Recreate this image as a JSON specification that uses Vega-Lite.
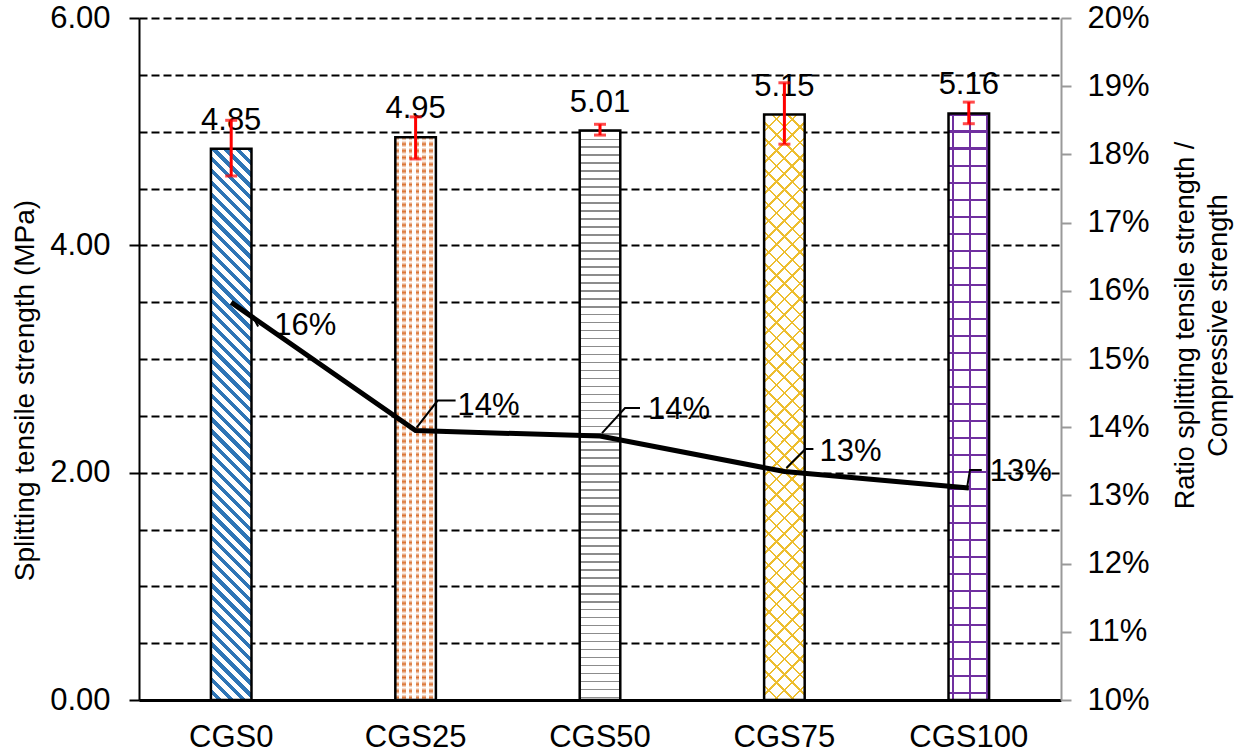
{
"$schema":"https://vega.github.io/schema/vega-lite/v6.json",
"width":922,"height":682,
"autosize":{"type":"none"},
"padding":{"left":139,"top":18,"right":179,"bottom":52},
"background":"white",
"config":{"font":"Liberation Sans","view":{"stroke":null},"axis":{"labelColor":"#000","titleColor":"#000","titleFontWeight":"normal"}},
"data":{"values":[
{"cat":"CGS0","mpa":4.85,"lo":4.61,"hi":5.10,"ratio":0.1583},
{"cat":"CGS25","mpa":4.95,"lo":4.76,"hi":5.13,"ratio":0.1395},
{"cat":"CGS50","mpa":5.01,"lo":4.97,"hi":5.065,"ratio":0.1387},
{"cat":"CGS75","mpa":5.15,"lo":4.89,"hi":5.43,"ratio":0.1335},
{"cat":"CGS100","mpa":5.16,"lo":5.07,"hi":5.26,"ratio":0.1311}
]},
"encoding":{"x":{"field":"cat","type":"nominal","sort":["CGS0","CGS25","CGS50","CGS75","CGS100"],"scale":{"paddingInner":0.78,"paddingOuter":0.39},"axis":{"title":null,"ticks":false,"grid":false,"domainColor":"#000","domainWidth":3,"labelFontSize":31,"labelPadding":22,"labelAngle":0}}},
"layer":[
{"encoding":{"y":{"field":"mpa","type":"quantitative","scale":{"domain":[0,6],"nice":false},"axis":{"values":[0,0.5,1,1.5,2,2.5,3,3.5,4,4.5,5,5.5,6],"labelExpr":"datum.value % 2 === 0 ? format(datum.value, '.2f') : ''","grid":true,"gridDash":[8,4],"gridColor":"#000","gridWidth":2,"tickColor":{"condition":{"test":"datum.value % 2 === 0","value":"#000"},"value":"transparent"},"tickSize":10,"tickWidth":2,"domainColor":"#000","domainWidth":2,"labelFontSize":31,"labelPadding":19,"title":"Splitting tensile strength (MPa)","titleFontSize":28,"titleX":-114,"titleY":372,"titleAngle":270,"titleAlign":"center","titleBaseline":"middle"}}},
"layer":[
{"transform":[{"filter":"datum.cat === 'CGS0'"}],"mark":{"type":"bar","fill":{"gradient":"linear","x1":1,"y1":0,"x2":0.9214,"y2":1.0678,"stops":[
{"offset":0,"color":"#2E75B6"},{"offset":0.009,"color":"#2E75B6"},{"offset":0.009,"color":"#fff"},{"offset":0.02,"color":"#fff"},
{"offset":0.02,"color":"#2E75B6"},{"offset":0.029,"color":"#2E75B6"},{"offset":0.029,"color":"#fff"},{"offset":0.04,"color":"#fff"},
{"offset":0.04,"color":"#2E75B6"},{"offset":0.049,"color":"#2E75B6"},{"offset":0.049,"color":"#fff"},{"offset":0.06,"color":"#fff"},
{"offset":0.06,"color":"#2E75B6"},{"offset":0.069,"color":"#2E75B6"},{"offset":0.069,"color":"#fff"},{"offset":0.08,"color":"#fff"},
{"offset":0.08,"color":"#2E75B6"},{"offset":0.089,"color":"#2E75B6"},{"offset":0.089,"color":"#fff"},{"offset":0.1,"color":"#fff"},
{"offset":0.1,"color":"#2E75B6"},{"offset":0.109,"color":"#2E75B6"},{"offset":0.109,"color":"#fff"},{"offset":0.12,"color":"#fff"},
{"offset":0.12,"color":"#2E75B6"},{"offset":0.129,"color":"#2E75B6"},{"offset":0.129,"color":"#fff"},{"offset":0.14,"color":"#fff"},
{"offset":0.14,"color":"#2E75B6"},{"offset":0.149,"color":"#2E75B6"},{"offset":0.149,"color":"#fff"},{"offset":0.16,"color":"#fff"},
{"offset":0.16,"color":"#2E75B6"},{"offset":0.169,"color":"#2E75B6"},{"offset":0.169,"color":"#fff"},{"offset":0.18,"color":"#fff"},
{"offset":0.18,"color":"#2E75B6"},{"offset":0.189,"color":"#2E75B6"},{"offset":0.189,"color":"#fff"},{"offset":0.2,"color":"#fff"},
{"offset":0.2,"color":"#2E75B6"},{"offset":0.209,"color":"#2E75B6"},{"offset":0.209,"color":"#fff"},{"offset":0.22,"color":"#fff"},
{"offset":0.22,"color":"#2E75B6"},{"offset":0.229,"color":"#2E75B6"},{"offset":0.229,"color":"#fff"},{"offset":0.24,"color":"#fff"},
{"offset":0.24,"color":"#2E75B6"},{"offset":0.249,"color":"#2E75B6"},{"offset":0.249,"color":"#fff"},{"offset":0.26,"color":"#fff"},
{"offset":0.26,"color":"#2E75B6"},{"offset":0.269,"color":"#2E75B6"},{"offset":0.269,"color":"#fff"},{"offset":0.28,"color":"#fff"},
{"offset":0.28,"color":"#2E75B6"},{"offset":0.289,"color":"#2E75B6"},{"offset":0.289,"color":"#fff"},{"offset":0.3,"color":"#fff"},
{"offset":0.3,"color":"#2E75B6"},{"offset":0.309,"color":"#2E75B6"},{"offset":0.309,"color":"#fff"},{"offset":0.32,"color":"#fff"},
{"offset":0.32,"color":"#2E75B6"},{"offset":0.329,"color":"#2E75B6"},{"offset":0.329,"color":"#fff"},{"offset":0.34,"color":"#fff"},
{"offset":0.34,"color":"#2E75B6"},{"offset":0.349,"color":"#2E75B6"},{"offset":0.349,"color":"#fff"},{"offset":0.36,"color":"#fff"},
{"offset":0.36,"color":"#2E75B6"},{"offset":0.369,"color":"#2E75B6"},{"offset":0.369,"color":"#fff"},{"offset":0.38,"color":"#fff"},
{"offset":0.38,"color":"#2E75B6"},{"offset":0.389,"color":"#2E75B6"},{"offset":0.389,"color":"#fff"},{"offset":0.4,"color":"#fff"},
{"offset":0.4,"color":"#2E75B6"},{"offset":0.409,"color":"#2E75B6"},{"offset":0.409,"color":"#fff"},{"offset":0.42,"color":"#fff"},
{"offset":0.42,"color":"#2E75B6"},{"offset":0.429,"color":"#2E75B6"},{"offset":0.429,"color":"#fff"},{"offset":0.44,"color":"#fff"},
{"offset":0.44,"color":"#2E75B6"},{"offset":0.449,"color":"#2E75B6"},{"offset":0.449,"color":"#fff"},{"offset":0.46,"color":"#fff"},
{"offset":0.46,"color":"#2E75B6"},{"offset":0.469,"color":"#2E75B6"},{"offset":0.469,"color":"#fff"},{"offset":0.48,"color":"#fff"},
{"offset":0.48,"color":"#2E75B6"},{"offset":0.489,"color":"#2E75B6"},{"offset":0.489,"color":"#fff"},{"offset":0.5,"color":"#fff"},
{"offset":0.5,"color":"#2E75B6"},{"offset":0.509,"color":"#2E75B6"},{"offset":0.509,"color":"#fff"},{"offset":0.52,"color":"#fff"},
{"offset":0.52,"color":"#2E75B6"},{"offset":0.529,"color":"#2E75B6"},{"offset":0.529,"color":"#fff"},{"offset":0.54,"color":"#fff"},
{"offset":0.54,"color":"#2E75B6"},{"offset":0.549,"color":"#2E75B6"},{"offset":0.549,"color":"#fff"},{"offset":0.56,"color":"#fff"},
{"offset":0.56,"color":"#2E75B6"},{"offset":0.569,"color":"#2E75B6"},{"offset":0.569,"color":"#fff"},{"offset":0.58,"color":"#fff"},
{"offset":0.58,"color":"#2E75B6"},{"offset":0.589,"color":"#2E75B6"},{"offset":0.589,"color":"#fff"},{"offset":0.6,"color":"#fff"},
{"offset":0.6,"color":"#2E75B6"},{"offset":0.609,"color":"#2E75B6"},{"offset":0.609,"color":"#fff"},{"offset":0.62,"color":"#fff"},
{"offset":0.62,"color":"#2E75B6"},{"offset":0.629,"color":"#2E75B6"},{"offset":0.629,"color":"#fff"},{"offset":0.64,"color":"#fff"},
{"offset":0.64,"color":"#2E75B6"},{"offset":0.649,"color":"#2E75B6"},{"offset":0.649,"color":"#fff"},{"offset":0.66,"color":"#fff"},
{"offset":0.66,"color":"#2E75B6"},{"offset":0.669,"color":"#2E75B6"},{"offset":0.669,"color":"#fff"},{"offset":0.68,"color":"#fff"},
{"offset":0.68,"color":"#2E75B6"},{"offset":0.689,"color":"#2E75B6"},{"offset":0.689,"color":"#fff"},{"offset":0.7,"color":"#fff"},
{"offset":0.7,"color":"#2E75B6"},{"offset":0.709,"color":"#2E75B6"},{"offset":0.709,"color":"#fff"},{"offset":0.72,"color":"#fff"},
{"offset":0.72,"color":"#2E75B6"},{"offset":0.729,"color":"#2E75B6"},{"offset":0.729,"color":"#fff"},{"offset":0.74,"color":"#fff"},
{"offset":0.74,"color":"#2E75B6"},{"offset":0.749,"color":"#2E75B6"},{"offset":0.749,"color":"#fff"},{"offset":0.76,"color":"#fff"},
{"offset":0.76,"color":"#2E75B6"},{"offset":0.769,"color":"#2E75B6"},{"offset":0.769,"color":"#fff"},{"offset":0.78,"color":"#fff"},
{"offset":0.78,"color":"#2E75B6"},{"offset":0.789,"color":"#2E75B6"},{"offset":0.789,"color":"#fff"},{"offset":0.8,"color":"#fff"},
{"offset":0.8,"color":"#2E75B6"},{"offset":0.809,"color":"#2E75B6"},{"offset":0.809,"color":"#fff"},{"offset":0.82,"color":"#fff"},
{"offset":0.82,"color":"#2E75B6"},{"offset":0.829,"color":"#2E75B6"},{"offset":0.829,"color":"#fff"},{"offset":0.84,"color":"#fff"},
{"offset":0.84,"color":"#2E75B6"},{"offset":0.849,"color":"#2E75B6"},{"offset":0.849,"color":"#fff"},{"offset":0.86,"color":"#fff"},
{"offset":0.86,"color":"#2E75B6"},{"offset":0.869,"color":"#2E75B6"},{"offset":0.869,"color":"#fff"},{"offset":0.88,"color":"#fff"},
{"offset":0.88,"color":"#2E75B6"},{"offset":0.889,"color":"#2E75B6"},{"offset":0.889,"color":"#fff"},{"offset":0.9,"color":"#fff"},
{"offset":0.9,"color":"#2E75B6"},{"offset":0.909,"color":"#2E75B6"},{"offset":0.909,"color":"#fff"},{"offset":0.92,"color":"#fff"},
{"offset":0.92,"color":"#2E75B6"},{"offset":0.929,"color":"#2E75B6"},{"offset":0.929,"color":"#fff"},{"offset":0.94,"color":"#fff"},
{"offset":0.94,"color":"#2E75B6"},{"offset":0.949,"color":"#2E75B6"},{"offset":0.949,"color":"#fff"},{"offset":0.96,"color":"#fff"},
{"offset":0.96,"color":"#2E75B6"},{"offset":0.969,"color":"#2E75B6"},{"offset":0.969,"color":"#fff"},{"offset":0.98,"color":"#fff"},
{"offset":0.98,"color":"#2E75B6"},{"offset":0.989,"color":"#2E75B6"},{"offset":0.989,"color":"#fff"},{"offset":1,"color":"#fff"}
]}}},
{"transform":[{"filter":"datum.cat === 'CGS25'"}],"mark":{"type":"bar","fill":{"gradient":"linear","x1":0,"y1":0,"x2":0,"y2":1,"stops":[
{"offset":0,"color":"#D9702F"},{"offset":0.006,"color":"#fff"},{"offset":0.012,"color":"#D9702F"},{"offset":0.018,"color":"#fff"},{"offset":0.024,"color":"#D9702F"},{"offset":0.03,"color":"#fff"},{"offset":0.036,"color":"#D9702F"},{"offset":0.042,"color":"#fff"},{"offset":0.048,"color":"#D9702F"},{"offset":0.054,"color":"#fff"},
{"offset":0.06,"color":"#D9702F"},{"offset":0.066,"color":"#fff"},{"offset":0.072,"color":"#D9702F"},{"offset":0.078,"color":"#fff"},{"offset":0.084,"color":"#D9702F"},{"offset":0.09,"color":"#fff"},{"offset":0.096,"color":"#D9702F"},{"offset":0.102,"color":"#fff"},{"offset":0.108,"color":"#D9702F"},{"offset":0.114,"color":"#fff"},
{"offset":0.12,"color":"#D9702F"},{"offset":0.126,"color":"#fff"},{"offset":0.132,"color":"#D9702F"},{"offset":0.138,"color":"#fff"},{"offset":0.144,"color":"#D9702F"},{"offset":0.15,"color":"#fff"},{"offset":0.156,"color":"#D9702F"},{"offset":0.162,"color":"#fff"},{"offset":0.168,"color":"#D9702F"},{"offset":0.174,"color":"#fff"},
{"offset":0.18,"color":"#D9702F"},{"offset":0.186,"color":"#fff"},{"offset":0.192,"color":"#D9702F"},{"offset":0.198,"color":"#fff"},{"offset":0.204,"color":"#D9702F"},{"offset":0.21,"color":"#fff"},{"offset":0.216,"color":"#D9702F"},{"offset":0.222,"color":"#fff"},{"offset":0.228,"color":"#D9702F"},{"offset":0.234,"color":"#fff"},
{"offset":0.24,"color":"#D9702F"},{"offset":0.246,"color":"#fff"},{"offset":0.252,"color":"#D9702F"},{"offset":0.258,"color":"#fff"},{"offset":0.264,"color":"#D9702F"},{"offset":0.27,"color":"#fff"},{"offset":0.276,"color":"#D9702F"},{"offset":0.282,"color":"#fff"},{"offset":0.288,"color":"#D9702F"},{"offset":0.294,"color":"#fff"},
{"offset":0.3,"color":"#D9702F"},{"offset":0.306,"color":"#fff"},{"offset":0.312,"color":"#D9702F"},{"offset":0.318,"color":"#fff"},{"offset":0.324,"color":"#D9702F"},{"offset":0.33,"color":"#fff"},{"offset":0.336,"color":"#D9702F"},{"offset":0.342,"color":"#fff"},{"offset":0.348,"color":"#D9702F"},{"offset":0.354,"color":"#fff"},
{"offset":0.36,"color":"#D9702F"},{"offset":0.366,"color":"#fff"},{"offset":0.372,"color":"#D9702F"},{"offset":0.378,"color":"#fff"},{"offset":0.384,"color":"#D9702F"},{"offset":0.39,"color":"#fff"},{"offset":0.396,"color":"#D9702F"},{"offset":0.402,"color":"#fff"},{"offset":0.408,"color":"#D9702F"},{"offset":0.414,"color":"#fff"},
{"offset":0.42,"color":"#D9702F"},{"offset":0.426,"color":"#fff"},{"offset":0.432,"color":"#D9702F"},{"offset":0.438,"color":"#fff"},{"offset":0.444,"color":"#D9702F"},{"offset":0.45,"color":"#fff"},{"offset":0.456,"color":"#D9702F"},{"offset":0.462,"color":"#fff"},{"offset":0.468,"color":"#D9702F"},{"offset":0.474,"color":"#fff"},
{"offset":0.48,"color":"#D9702F"},{"offset":0.486,"color":"#fff"},{"offset":0.492,"color":"#D9702F"},{"offset":0.498,"color":"#fff"},{"offset":0.504,"color":"#D9702F"},{"offset":0.51,"color":"#fff"},{"offset":0.516,"color":"#D9702F"},{"offset":0.522,"color":"#fff"},{"offset":0.528,"color":"#D9702F"},{"offset":0.534,"color":"#fff"},
{"offset":0.54,"color":"#D9702F"},{"offset":0.546,"color":"#fff"},{"offset":0.552,"color":"#D9702F"},{"offset":0.558,"color":"#fff"},{"offset":0.564,"color":"#D9702F"},{"offset":0.57,"color":"#fff"},{"offset":0.576,"color":"#D9702F"},{"offset":0.582,"color":"#fff"},{"offset":0.588,"color":"#D9702F"},{"offset":0.594,"color":"#fff"},
{"offset":0.6,"color":"#D9702F"},{"offset":0.606,"color":"#fff"},{"offset":0.612,"color":"#D9702F"},{"offset":0.618,"color":"#fff"},{"offset":0.624,"color":"#D9702F"},{"offset":0.63,"color":"#fff"},{"offset":0.636,"color":"#D9702F"},{"offset":0.642,"color":"#fff"},{"offset":0.648,"color":"#D9702F"},{"offset":0.654,"color":"#fff"},
{"offset":0.66,"color":"#D9702F"},{"offset":0.666,"color":"#fff"},{"offset":0.672,"color":"#D9702F"},{"offset":0.678,"color":"#fff"},{"offset":0.684,"color":"#D9702F"},{"offset":0.69,"color":"#fff"},{"offset":0.696,"color":"#D9702F"},{"offset":0.702,"color":"#fff"},{"offset":0.708,"color":"#D9702F"},{"offset":0.714,"color":"#fff"},
{"offset":0.72,"color":"#D9702F"},{"offset":0.726,"color":"#fff"},{"offset":0.732,"color":"#D9702F"},{"offset":0.738,"color":"#fff"},{"offset":0.744,"color":"#D9702F"},{"offset":0.75,"color":"#fff"},{"offset":0.756,"color":"#D9702F"},{"offset":0.762,"color":"#fff"},{"offset":0.768,"color":"#D9702F"},{"offset":0.774,"color":"#fff"},
{"offset":0.78,"color":"#D9702F"},{"offset":0.786,"color":"#fff"},{"offset":0.792,"color":"#D9702F"},{"offset":0.798,"color":"#fff"},{"offset":0.804,"color":"#D9702F"},{"offset":0.81,"color":"#fff"},{"offset":0.816,"color":"#D9702F"},{"offset":0.822,"color":"#fff"},{"offset":0.828,"color":"#D9702F"},{"offset":0.834,"color":"#fff"},
{"offset":0.84,"color":"#D9702F"},{"offset":0.846,"color":"#fff"},{"offset":0.852,"color":"#D9702F"},{"offset":0.858,"color":"#fff"},{"offset":0.864,"color":"#D9702F"},{"offset":0.87,"color":"#fff"},{"offset":0.876,"color":"#D9702F"},{"offset":0.882,"color":"#fff"},{"offset":0.888,"color":"#D9702F"},{"offset":0.894,"color":"#fff"},
{"offset":0.9,"color":"#D9702F"},{"offset":0.906,"color":"#fff"},{"offset":0.912,"color":"#D9702F"},{"offset":0.918,"color":"#fff"},{"offset":0.924,"color":"#D9702F"},{"offset":0.93,"color":"#fff"},{"offset":0.936,"color":"#D9702F"},{"offset":0.942,"color":"#fff"},{"offset":0.948,"color":"#D9702F"},{"offset":0.954,"color":"#fff"},
{"offset":0.96,"color":"#D9702F"},{"offset":0.966,"color":"#fff"},{"offset":0.972,"color":"#D9702F"},{"offset":0.978,"color":"#fff"},{"offset":0.984,"color":"#D9702F"},{"offset":0.99,"color":"#fff"},{"offset":0.996,"color":"#D9702F"},{"offset":1,"color":"#fff"}
]}}},
{"transform":[{"filter":"datum.cat === 'CGS25'"}],"mark":{"type":"bar","fill":{"gradient":"linear","x1":0,"y1":0,"x2":1,"y2":0,"stops":[
{"offset":0,"color":"rgba(255,255,255,0)"},{"offset":0.09,"color":"rgba(255,255,255,0)"},{"offset":0.09,"color":"#fff"},{"offset":0.1667,"color":"#fff"},
{"offset":0.1667,"color":"rgba(255,255,255,0)"},{"offset":0.2567,"color":"rgba(255,255,255,0)"},{"offset":0.2567,"color":"#fff"},{"offset":0.3333,"color":"#fff"},
{"offset":0.3333,"color":"rgba(255,255,255,0)"},{"offset":0.4233,"color":"rgba(255,255,255,0)"},{"offset":0.4233,"color":"#fff"},{"offset":0.5,"color":"#fff"},
{"offset":0.5,"color":"rgba(255,255,255,0)"},{"offset":0.59,"color":"rgba(255,255,255,0)"},{"offset":0.59,"color":"#fff"},{"offset":0.6667,"color":"#fff"},
{"offset":0.6667,"color":"rgba(255,255,255,0)"},{"offset":0.7567,"color":"rgba(255,255,255,0)"},{"offset":0.7567,"color":"#fff"},{"offset":0.8333,"color":"#fff"},
{"offset":0.8333,"color":"rgba(255,255,255,0)"},{"offset":0.9233,"color":"rgba(255,255,255,0)"},{"offset":0.9233,"color":"#fff"},{"offset":1,"color":"#fff"}
]}}},
{"transform":[{"filter":"datum.cat === 'CGS50'"}],"mark":{"type":"bar","fill":{"gradient":"linear","x1":0,"y1":0,"x2":0,"y2":1,"stops":[
{"offset":0,"color":"#8c8c8c"},{"offset":0.0028,"color":"#8c8c8c"},{"offset":0.0028,"color":"#fff"},{"offset":0.014,"color":"#fff"},
{"offset":0.014,"color":"#8c8c8c"},{"offset":0.0168,"color":"#8c8c8c"},{"offset":0.0168,"color":"#fff"},{"offset":0.028,"color":"#fff"},
{"offset":0.028,"color":"#8c8c8c"},{"offset":0.0308,"color":"#8c8c8c"},{"offset":0.0308,"color":"#fff"},{"offset":0.042,"color":"#fff"},
{"offset":0.042,"color":"#8c8c8c"},{"offset":0.0448,"color":"#8c8c8c"},{"offset":0.0448,"color":"#fff"},{"offset":0.056,"color":"#fff"},
{"offset":0.056,"color":"#8c8c8c"},{"offset":0.0588,"color":"#8c8c8c"},{"offset":0.0588,"color":"#fff"},{"offset":0.07,"color":"#fff"},
{"offset":0.07,"color":"#8c8c8c"},{"offset":0.0728,"color":"#8c8c8c"},{"offset":0.0728,"color":"#fff"},{"offset":0.084,"color":"#fff"},
{"offset":0.084,"color":"#8c8c8c"},{"offset":0.0868,"color":"#8c8c8c"},{"offset":0.0868,"color":"#fff"},{"offset":0.098,"color":"#fff"},
{"offset":0.098,"color":"#8c8c8c"},{"offset":0.1008,"color":"#8c8c8c"},{"offset":0.1008,"color":"#fff"},{"offset":0.112,"color":"#fff"},
{"offset":0.112,"color":"#8c8c8c"},{"offset":0.1148,"color":"#8c8c8c"},{"offset":0.1148,"color":"#fff"},{"offset":0.126,"color":"#fff"},
{"offset":0.126,"color":"#8c8c8c"},{"offset":0.1288,"color":"#8c8c8c"},{"offset":0.1288,"color":"#fff"},{"offset":0.14,"color":"#fff"},
{"offset":0.14,"color":"#8c8c8c"},{"offset":0.1428,"color":"#8c8c8c"},{"offset":0.1428,"color":"#fff"},{"offset":0.154,"color":"#fff"},
{"offset":0.154,"color":"#8c8c8c"},{"offset":0.1568,"color":"#8c8c8c"},{"offset":0.1568,"color":"#fff"},{"offset":0.168,"color":"#fff"},
{"offset":0.168,"color":"#8c8c8c"},{"offset":0.1708,"color":"#8c8c8c"},{"offset":0.1708,"color":"#fff"},{"offset":0.182,"color":"#fff"},
{"offset":0.182,"color":"#8c8c8c"},{"offset":0.1848,"color":"#8c8c8c"},{"offset":0.1848,"color":"#fff"},{"offset":0.196,"color":"#fff"},
{"offset":0.196,"color":"#8c8c8c"},{"offset":0.1988,"color":"#8c8c8c"},{"offset":0.1988,"color":"#fff"},{"offset":0.21,"color":"#fff"},
{"offset":0.21,"color":"#8c8c8c"},{"offset":0.2128,"color":"#8c8c8c"},{"offset":0.2128,"color":"#fff"},{"offset":0.224,"color":"#fff"},
{"offset":0.224,"color":"#8c8c8c"},{"offset":0.2268,"color":"#8c8c8c"},{"offset":0.2268,"color":"#fff"},{"offset":0.238,"color":"#fff"},
{"offset":0.238,"color":"#8c8c8c"},{"offset":0.2408,"color":"#8c8c8c"},{"offset":0.2408,"color":"#fff"},{"offset":0.252,"color":"#fff"},
{"offset":0.252,"color":"#8c8c8c"},{"offset":0.2548,"color":"#8c8c8c"},{"offset":0.2548,"color":"#fff"},{"offset":0.266,"color":"#fff"},
{"offset":0.266,"color":"#8c8c8c"},{"offset":0.2688,"color":"#8c8c8c"},{"offset":0.2688,"color":"#fff"},{"offset":0.28,"color":"#fff"},
{"offset":0.28,"color":"#8c8c8c"},{"offset":0.2828,"color":"#8c8c8c"},{"offset":0.2828,"color":"#fff"},{"offset":0.294,"color":"#fff"},
{"offset":0.294,"color":"#8c8c8c"},{"offset":0.2968,"color":"#8c8c8c"},{"offset":0.2968,"color":"#fff"},{"offset":0.308,"color":"#fff"},
{"offset":0.308,"color":"#8c8c8c"},{"offset":0.3108,"color":"#8c8c8c"},{"offset":0.3108,"color":"#fff"},{"offset":0.322,"color":"#fff"},
{"offset":0.322,"color":"#8c8c8c"},{"offset":0.3248,"color":"#8c8c8c"},{"offset":0.3248,"color":"#fff"},{"offset":0.336,"color":"#fff"},
{"offset":0.336,"color":"#8c8c8c"},{"offset":0.3388,"color":"#8c8c8c"},{"offset":0.3388,"color":"#fff"},{"offset":0.35,"color":"#fff"},
{"offset":0.35,"color":"#8c8c8c"},{"offset":0.3528,"color":"#8c8c8c"},{"offset":0.3528,"color":"#fff"},{"offset":0.364,"color":"#fff"},
{"offset":0.364,"color":"#8c8c8c"},{"offset":0.3668,"color":"#8c8c8c"},{"offset":0.3668,"color":"#fff"},{"offset":0.378,"color":"#fff"},
{"offset":0.378,"color":"#8c8c8c"},{"offset":0.3808,"color":"#8c8c8c"},{"offset":0.3808,"color":"#fff"},{"offset":0.392,"color":"#fff"},
{"offset":0.392,"color":"#8c8c8c"},{"offset":0.3948,"color":"#8c8c8c"},{"offset":0.3948,"color":"#fff"},{"offset":0.406,"color":"#fff"},
{"offset":0.406,"color":"#8c8c8c"},{"offset":0.4088,"color":"#8c8c8c"},{"offset":0.4088,"color":"#fff"},{"offset":0.42,"color":"#fff"},
{"offset":0.42,"color":"#8c8c8c"},{"offset":0.4228,"color":"#8c8c8c"},{"offset":0.4228,"color":"#fff"},{"offset":0.434,"color":"#fff"},
{"offset":0.434,"color":"#8c8c8c"},{"offset":0.4368,"color":"#8c8c8c"},{"offset":0.4368,"color":"#fff"},{"offset":0.448,"color":"#fff"},
{"offset":0.448,"color":"#8c8c8c"},{"offset":0.4508,"color":"#8c8c8c"},{"offset":0.4508,"color":"#fff"},{"offset":0.462,"color":"#fff"},
{"offset":0.462,"color":"#8c8c8c"},{"offset":0.4648,"color":"#8c8c8c"},{"offset":0.4648,"color":"#fff"},{"offset":0.476,"color":"#fff"},
{"offset":0.476,"color":"#8c8c8c"},{"offset":0.4788,"color":"#8c8c8c"},{"offset":0.4788,"color":"#fff"},{"offset":0.49,"color":"#fff"},
{"offset":0.49,"color":"#8c8c8c"},{"offset":0.4928,"color":"#8c8c8c"},{"offset":0.4928,"color":"#fff"},{"offset":0.504,"color":"#fff"},
{"offset":0.504,"color":"#8c8c8c"},{"offset":0.5068,"color":"#8c8c8c"},{"offset":0.5068,"color":"#fff"},{"offset":0.518,"color":"#fff"},
{"offset":0.518,"color":"#8c8c8c"},{"offset":0.5208,"color":"#8c8c8c"},{"offset":0.5208,"color":"#fff"},{"offset":0.532,"color":"#fff"},
{"offset":0.532,"color":"#8c8c8c"},{"offset":0.5348,"color":"#8c8c8c"},{"offset":0.5348,"color":"#fff"},{"offset":0.546,"color":"#fff"},
{"offset":0.546,"color":"#8c8c8c"},{"offset":0.5488,"color":"#8c8c8c"},{"offset":0.5488,"color":"#fff"},{"offset":0.56,"color":"#fff"},
{"offset":0.56,"color":"#8c8c8c"},{"offset":0.5628,"color":"#8c8c8c"},{"offset":0.5628,"color":"#fff"},{"offset":0.574,"color":"#fff"},
{"offset":0.574,"color":"#8c8c8c"},{"offset":0.5768,"color":"#8c8c8c"},{"offset":0.5768,"color":"#fff"},{"offset":0.588,"color":"#fff"},
{"offset":0.588,"color":"#8c8c8c"},{"offset":0.5908,"color":"#8c8c8c"},{"offset":0.5908,"color":"#fff"},{"offset":0.602,"color":"#fff"},
{"offset":0.602,"color":"#8c8c8c"},{"offset":0.6048,"color":"#8c8c8c"},{"offset":0.6048,"color":"#fff"},{"offset":0.616,"color":"#fff"},
{"offset":0.616,"color":"#8c8c8c"},{"offset":0.6188,"color":"#8c8c8c"},{"offset":0.6188,"color":"#fff"},{"offset":0.63,"color":"#fff"},
{"offset":0.63,"color":"#8c8c8c"},{"offset":0.6328,"color":"#8c8c8c"},{"offset":0.6328,"color":"#fff"},{"offset":0.644,"color":"#fff"},
{"offset":0.644,"color":"#8c8c8c"},{"offset":0.6468,"color":"#8c8c8c"},{"offset":0.6468,"color":"#fff"},{"offset":0.658,"color":"#fff"},
{"offset":0.658,"color":"#8c8c8c"},{"offset":0.6608,"color":"#8c8c8c"},{"offset":0.6608,"color":"#fff"},{"offset":0.672,"color":"#fff"},
{"offset":0.672,"color":"#8c8c8c"},{"offset":0.6748,"color":"#8c8c8c"},{"offset":0.6748,"color":"#fff"},{"offset":0.686,"color":"#fff"},
{"offset":0.686,"color":"#8c8c8c"},{"offset":0.6888,"color":"#8c8c8c"},{"offset":0.6888,"color":"#fff"},{"offset":0.7,"color":"#fff"},
{"offset":0.7,"color":"#8c8c8c"},{"offset":0.7028,"color":"#8c8c8c"},{"offset":0.7028,"color":"#fff"},{"offset":0.714,"color":"#fff"},
{"offset":0.714,"color":"#8c8c8c"},{"offset":0.7168,"color":"#8c8c8c"},{"offset":0.7168,"color":"#fff"},{"offset":0.728,"color":"#fff"},
{"offset":0.728,"color":"#8c8c8c"},{"offset":0.7308,"color":"#8c8c8c"},{"offset":0.7308,"color":"#fff"},{"offset":0.742,"color":"#fff"},
{"offset":0.742,"color":"#8c8c8c"},{"offset":0.7448,"color":"#8c8c8c"},{"offset":0.7448,"color":"#fff"},{"offset":0.756,"color":"#fff"},
{"offset":0.756,"color":"#8c8c8c"},{"offset":0.7588,"color":"#8c8c8c"},{"offset":0.7588,"color":"#fff"},{"offset":0.77,"color":"#fff"},
{"offset":0.77,"color":"#8c8c8c"},{"offset":0.7728,"color":"#8c8c8c"},{"offset":0.7728,"color":"#fff"},{"offset":0.784,"color":"#fff"},
{"offset":0.784,"color":"#8c8c8c"},{"offset":0.7868,"color":"#8c8c8c"},{"offset":0.7868,"color":"#fff"},{"offset":0.798,"color":"#fff"},
{"offset":0.798,"color":"#8c8c8c"},{"offset":0.8008,"color":"#8c8c8c"},{"offset":0.8008,"color":"#fff"},{"offset":0.812,"color":"#fff"},
{"offset":0.812,"color":"#8c8c8c"},{"offset":0.8148,"color":"#8c8c8c"},{"offset":0.8148,"color":"#fff"},{"offset":0.826,"color":"#fff"},
{"offset":0.826,"color":"#8c8c8c"},{"offset":0.8288,"color":"#8c8c8c"},{"offset":0.8288,"color":"#fff"},{"offset":0.84,"color":"#fff"},
{"offset":0.84,"color":"#8c8c8c"},{"offset":0.8428,"color":"#8c8c8c"},{"offset":0.8428,"color":"#fff"},{"offset":0.854,"color":"#fff"},
{"offset":0.854,"color":"#8c8c8c"},{"offset":0.8568,"color":"#8c8c8c"},{"offset":0.8568,"color":"#fff"},{"offset":0.868,"color":"#fff"},
{"offset":0.868,"color":"#8c8c8c"},{"offset":0.8708,"color":"#8c8c8c"},{"offset":0.8708,"color":"#fff"},{"offset":0.882,"color":"#fff"},
{"offset":0.882,"color":"#8c8c8c"},{"offset":0.8848,"color":"#8c8c8c"},{"offset":0.8848,"color":"#fff"},{"offset":0.896,"color":"#fff"},
{"offset":0.896,"color":"#8c8c8c"},{"offset":0.8988,"color":"#8c8c8c"},{"offset":0.8988,"color":"#fff"},{"offset":0.91,"color":"#fff"},
{"offset":0.91,"color":"#8c8c8c"},{"offset":0.9128,"color":"#8c8c8c"},{"offset":0.9128,"color":"#fff"},{"offset":0.924,"color":"#fff"},
{"offset":0.924,"color":"#8c8c8c"},{"offset":0.9268,"color":"#8c8c8c"},{"offset":0.9268,"color":"#fff"},{"offset":0.938,"color":"#fff"},
{"offset":0.938,"color":"#8c8c8c"},{"offset":0.9408,"color":"#8c8c8c"},{"offset":0.9408,"color":"#fff"},{"offset":0.952,"color":"#fff"},
{"offset":0.952,"color":"#8c8c8c"},{"offset":0.9548,"color":"#8c8c8c"},{"offset":0.9548,"color":"#fff"},{"offset":0.966,"color":"#fff"},
{"offset":0.966,"color":"#8c8c8c"},{"offset":0.9688,"color":"#8c8c8c"},{"offset":0.9688,"color":"#fff"},{"offset":0.98,"color":"#fff"},
{"offset":0.98,"color":"#8c8c8c"},{"offset":0.9828,"color":"#8c8c8c"},{"offset":0.9828,"color":"#fff"},{"offset":0.994,"color":"#fff"},
{"offset":0.994,"color":"#8c8c8c"},{"offset":0.9968,"color":"#8c8c8c"},{"offset":0.9968,"color":"#fff"},{"offset":1,"color":"#fff"}
]}}},
{"transform":[{"filter":"datum.cat === 'CGS75'"}],"mark":{"type":"bar","fill":{"gradient":"linear","x1":0,"y1":0,"x2":0.0738,"y2":1.0642,"stops":[
{"offset":0,"color":"#EDBE2F"},{"offset":0.004,"color":"#EDBE2F"},{"offset":0.004,"color":"#fff"},{"offset":0.025,"color":"#fff"},
{"offset":0.025,"color":"#EDBE2F"},{"offset":0.029,"color":"#EDBE2F"},{"offset":0.029,"color":"#fff"},{"offset":0.05,"color":"#fff"},
{"offset":0.05,"color":"#EDBE2F"},{"offset":0.054,"color":"#EDBE2F"},{"offset":0.054,"color":"#fff"},{"offset":0.075,"color":"#fff"},
{"offset":0.075,"color":"#EDBE2F"},{"offset":0.079,"color":"#EDBE2F"},{"offset":0.079,"color":"#fff"},{"offset":0.1,"color":"#fff"},
{"offset":0.1,"color":"#EDBE2F"},{"offset":0.104,"color":"#EDBE2F"},{"offset":0.104,"color":"#fff"},{"offset":0.125,"color":"#fff"},
{"offset":0.125,"color":"#EDBE2F"},{"offset":0.129,"color":"#EDBE2F"},{"offset":0.129,"color":"#fff"},{"offset":0.15,"color":"#fff"},
{"offset":0.15,"color":"#EDBE2F"},{"offset":0.154,"color":"#EDBE2F"},{"offset":0.154,"color":"#fff"},{"offset":0.175,"color":"#fff"},
{"offset":0.175,"color":"#EDBE2F"},{"offset":0.179,"color":"#EDBE2F"},{"offset":0.179,"color":"#fff"},{"offset":0.2,"color":"#fff"},
{"offset":0.2,"color":"#EDBE2F"},{"offset":0.204,"color":"#EDBE2F"},{"offset":0.204,"color":"#fff"},{"offset":0.225,"color":"#fff"},
{"offset":0.225,"color":"#EDBE2F"},{"offset":0.229,"color":"#EDBE2F"},{"offset":0.229,"color":"#fff"},{"offset":0.25,"color":"#fff"},
{"offset":0.25,"color":"#EDBE2F"},{"offset":0.254,"color":"#EDBE2F"},{"offset":0.254,"color":"#fff"},{"offset":0.275,"color":"#fff"},
{"offset":0.275,"color":"#EDBE2F"},{"offset":0.279,"color":"#EDBE2F"},{"offset":0.279,"color":"#fff"},{"offset":0.3,"color":"#fff"},
{"offset":0.3,"color":"#EDBE2F"},{"offset":0.304,"color":"#EDBE2F"},{"offset":0.304,"color":"#fff"},{"offset":0.325,"color":"#fff"},
{"offset":0.325,"color":"#EDBE2F"},{"offset":0.329,"color":"#EDBE2F"},{"offset":0.329,"color":"#fff"},{"offset":0.35,"color":"#fff"},
{"offset":0.35,"color":"#EDBE2F"},{"offset":0.354,"color":"#EDBE2F"},{"offset":0.354,"color":"#fff"},{"offset":0.375,"color":"#fff"},
{"offset":0.375,"color":"#EDBE2F"},{"offset":0.379,"color":"#EDBE2F"},{"offset":0.379,"color":"#fff"},{"offset":0.4,"color":"#fff"},
{"offset":0.4,"color":"#EDBE2F"},{"offset":0.404,"color":"#EDBE2F"},{"offset":0.404,"color":"#fff"},{"offset":0.425,"color":"#fff"},
{"offset":0.425,"color":"#EDBE2F"},{"offset":0.429,"color":"#EDBE2F"},{"offset":0.429,"color":"#fff"},{"offset":0.45,"color":"#fff"},
{"offset":0.45,"color":"#EDBE2F"},{"offset":0.454,"color":"#EDBE2F"},{"offset":0.454,"color":"#fff"},{"offset":0.475,"color":"#fff"},
{"offset":0.475,"color":"#EDBE2F"},{"offset":0.479,"color":"#EDBE2F"},{"offset":0.479,"color":"#fff"},{"offset":0.5,"color":"#fff"},
{"offset":0.5,"color":"#EDBE2F"},{"offset":0.504,"color":"#EDBE2F"},{"offset":0.504,"color":"#fff"},{"offset":0.525,"color":"#fff"},
{"offset":0.525,"color":"#EDBE2F"},{"offset":0.529,"color":"#EDBE2F"},{"offset":0.529,"color":"#fff"},{"offset":0.55,"color":"#fff"},
{"offset":0.55,"color":"#EDBE2F"},{"offset":0.554,"color":"#EDBE2F"},{"offset":0.554,"color":"#fff"},{"offset":0.575,"color":"#fff"},
{"offset":0.575,"color":"#EDBE2F"},{"offset":0.579,"color":"#EDBE2F"},{"offset":0.579,"color":"#fff"},{"offset":0.6,"color":"#fff"},
{"offset":0.6,"color":"#EDBE2F"},{"offset":0.604,"color":"#EDBE2F"},{"offset":0.604,"color":"#fff"},{"offset":0.625,"color":"#fff"},
{"offset":0.625,"color":"#EDBE2F"},{"offset":0.629,"color":"#EDBE2F"},{"offset":0.629,"color":"#fff"},{"offset":0.65,"color":"#fff"},
{"offset":0.65,"color":"#EDBE2F"},{"offset":0.654,"color":"#EDBE2F"},{"offset":0.654,"color":"#fff"},{"offset":0.675,"color":"#fff"},
{"offset":0.675,"color":"#EDBE2F"},{"offset":0.679,"color":"#EDBE2F"},{"offset":0.679,"color":"#fff"},{"offset":0.7,"color":"#fff"},
{"offset":0.7,"color":"#EDBE2F"},{"offset":0.704,"color":"#EDBE2F"},{"offset":0.704,"color":"#fff"},{"offset":0.725,"color":"#fff"},
{"offset":0.725,"color":"#EDBE2F"},{"offset":0.729,"color":"#EDBE2F"},{"offset":0.729,"color":"#fff"},{"offset":0.75,"color":"#fff"},
{"offset":0.75,"color":"#EDBE2F"},{"offset":0.754,"color":"#EDBE2F"},{"offset":0.754,"color":"#fff"},{"offset":0.775,"color":"#fff"},
{"offset":0.775,"color":"#EDBE2F"},{"offset":0.779,"color":"#EDBE2F"},{"offset":0.779,"color":"#fff"},{"offset":0.8,"color":"#fff"},
{"offset":0.8,"color":"#EDBE2F"},{"offset":0.804,"color":"#EDBE2F"},{"offset":0.804,"color":"#fff"},{"offset":0.825,"color":"#fff"},
{"offset":0.825,"color":"#EDBE2F"},{"offset":0.829,"color":"#EDBE2F"},{"offset":0.829,"color":"#fff"},{"offset":0.85,"color":"#fff"},
{"offset":0.85,"color":"#EDBE2F"},{"offset":0.854,"color":"#EDBE2F"},{"offset":0.854,"color":"#fff"},{"offset":0.875,"color":"#fff"},
{"offset":0.875,"color":"#EDBE2F"},{"offset":0.879,"color":"#EDBE2F"},{"offset":0.879,"color":"#fff"},{"offset":0.9,"color":"#fff"},
{"offset":0.9,"color":"#EDBE2F"},{"offset":0.904,"color":"#EDBE2F"},{"offset":0.904,"color":"#fff"},{"offset":0.925,"color":"#fff"},
{"offset":0.925,"color":"#EDBE2F"},{"offset":0.929,"color":"#EDBE2F"},{"offset":0.929,"color":"#fff"},{"offset":0.95,"color":"#fff"},
{"offset":0.95,"color":"#EDBE2F"},{"offset":0.954,"color":"#EDBE2F"},{"offset":0.954,"color":"#fff"},{"offset":0.975,"color":"#fff"},
{"offset":0.975,"color":"#EDBE2F"},{"offset":0.979,"color":"#EDBE2F"},{"offset":0.979,"color":"#fff"},{"offset":1,"color":"#fff"}
]}}},
{"transform":[{"filter":"datum.cat === 'CGS75'"}],"mark":{"type":"bar","fill":{"gradient":"linear","x1":1,"y1":0,"x2":0.9262,"y2":1.0642,"stops":[
{"offset":0,"color":"#EDBE2F"},{"offset":0.004,"color":"#EDBE2F"},{"offset":0.004,"color":"rgba(255,255,255,0)"},{"offset":0.025,"color":"rgba(255,255,255,0)"},
{"offset":0.025,"color":"#EDBE2F"},{"offset":0.029,"color":"#EDBE2F"},{"offset":0.029,"color":"rgba(255,255,255,0)"},{"offset":0.05,"color":"rgba(255,255,255,0)"},
{"offset":0.05,"color":"#EDBE2F"},{"offset":0.054,"color":"#EDBE2F"},{"offset":0.054,"color":"rgba(255,255,255,0)"},{"offset":0.075,"color":"rgba(255,255,255,0)"},
{"offset":0.075,"color":"#EDBE2F"},{"offset":0.079,"color":"#EDBE2F"},{"offset":0.079,"color":"rgba(255,255,255,0)"},{"offset":0.1,"color":"rgba(255,255,255,0)"},
{"offset":0.1,"color":"#EDBE2F"},{"offset":0.104,"color":"#EDBE2F"},{"offset":0.104,"color":"rgba(255,255,255,0)"},{"offset":0.125,"color":"rgba(255,255,255,0)"},
{"offset":0.125,"color":"#EDBE2F"},{"offset":0.129,"color":"#EDBE2F"},{"offset":0.129,"color":"rgba(255,255,255,0)"},{"offset":0.15,"color":"rgba(255,255,255,0)"},
{"offset":0.15,"color":"#EDBE2F"},{"offset":0.154,"color":"#EDBE2F"},{"offset":0.154,"color":"rgba(255,255,255,0)"},{"offset":0.175,"color":"rgba(255,255,255,0)"},
{"offset":0.175,"color":"#EDBE2F"},{"offset":0.179,"color":"#EDBE2F"},{"offset":0.179,"color":"rgba(255,255,255,0)"},{"offset":0.2,"color":"rgba(255,255,255,0)"},
{"offset":0.2,"color":"#EDBE2F"},{"offset":0.204,"color":"#EDBE2F"},{"offset":0.204,"color":"rgba(255,255,255,0)"},{"offset":0.225,"color":"rgba(255,255,255,0)"},
{"offset":0.225,"color":"#EDBE2F"},{"offset":0.229,"color":"#EDBE2F"},{"offset":0.229,"color":"rgba(255,255,255,0)"},{"offset":0.25,"color":"rgba(255,255,255,0)"},
{"offset":0.25,"color":"#EDBE2F"},{"offset":0.254,"color":"#EDBE2F"},{"offset":0.254,"color":"rgba(255,255,255,0)"},{"offset":0.275,"color":"rgba(255,255,255,0)"},
{"offset":0.275,"color":"#EDBE2F"},{"offset":0.279,"color":"#EDBE2F"},{"offset":0.279,"color":"rgba(255,255,255,0)"},{"offset":0.3,"color":"rgba(255,255,255,0)"},
{"offset":0.3,"color":"#EDBE2F"},{"offset":0.304,"color":"#EDBE2F"},{"offset":0.304,"color":"rgba(255,255,255,0)"},{"offset":0.325,"color":"rgba(255,255,255,0)"},
{"offset":0.325,"color":"#EDBE2F"},{"offset":0.329,"color":"#EDBE2F"},{"offset":0.329,"color":"rgba(255,255,255,0)"},{"offset":0.35,"color":"rgba(255,255,255,0)"},
{"offset":0.35,"color":"#EDBE2F"},{"offset":0.354,"color":"#EDBE2F"},{"offset":0.354,"color":"rgba(255,255,255,0)"},{"offset":0.375,"color":"rgba(255,255,255,0)"},
{"offset":0.375,"color":"#EDBE2F"},{"offset":0.379,"color":"#EDBE2F"},{"offset":0.379,"color":"rgba(255,255,255,0)"},{"offset":0.4,"color":"rgba(255,255,255,0)"},
{"offset":0.4,"color":"#EDBE2F"},{"offset":0.404,"color":"#EDBE2F"},{"offset":0.404,"color":"rgba(255,255,255,0)"},{"offset":0.425,"color":"rgba(255,255,255,0)"},
{"offset":0.425,"color":"#EDBE2F"},{"offset":0.429,"color":"#EDBE2F"},{"offset":0.429,"color":"rgba(255,255,255,0)"},{"offset":0.45,"color":"rgba(255,255,255,0)"},
{"offset":0.45,"color":"#EDBE2F"},{"offset":0.454,"color":"#EDBE2F"},{"offset":0.454,"color":"rgba(255,255,255,0)"},{"offset":0.475,"color":"rgba(255,255,255,0)"},
{"offset":0.475,"color":"#EDBE2F"},{"offset":0.479,"color":"#EDBE2F"},{"offset":0.479,"color":"rgba(255,255,255,0)"},{"offset":0.5,"color":"rgba(255,255,255,0)"},
{"offset":0.5,"color":"#EDBE2F"},{"offset":0.504,"color":"#EDBE2F"},{"offset":0.504,"color":"rgba(255,255,255,0)"},{"offset":0.525,"color":"rgba(255,255,255,0)"},
{"offset":0.525,"color":"#EDBE2F"},{"offset":0.529,"color":"#EDBE2F"},{"offset":0.529,"color":"rgba(255,255,255,0)"},{"offset":0.55,"color":"rgba(255,255,255,0)"},
{"offset":0.55,"color":"#EDBE2F"},{"offset":0.554,"color":"#EDBE2F"},{"offset":0.554,"color":"rgba(255,255,255,0)"},{"offset":0.575,"color":"rgba(255,255,255,0)"},
{"offset":0.575,"color":"#EDBE2F"},{"offset":0.579,"color":"#EDBE2F"},{"offset":0.579,"color":"rgba(255,255,255,0)"},{"offset":0.6,"color":"rgba(255,255,255,0)"},
{"offset":0.6,"color":"#EDBE2F"},{"offset":0.604,"color":"#EDBE2F"},{"offset":0.604,"color":"rgba(255,255,255,0)"},{"offset":0.625,"color":"rgba(255,255,255,0)"},
{"offset":0.625,"color":"#EDBE2F"},{"offset":0.629,"color":"#EDBE2F"},{"offset":0.629,"color":"rgba(255,255,255,0)"},{"offset":0.65,"color":"rgba(255,255,255,0)"},
{"offset":0.65,"color":"#EDBE2F"},{"offset":0.654,"color":"#EDBE2F"},{"offset":0.654,"color":"rgba(255,255,255,0)"},{"offset":0.675,"color":"rgba(255,255,255,0)"},
{"offset":0.675,"color":"#EDBE2F"},{"offset":0.679,"color":"#EDBE2F"},{"offset":0.679,"color":"rgba(255,255,255,0)"},{"offset":0.7,"color":"rgba(255,255,255,0)"},
{"offset":0.7,"color":"#EDBE2F"},{"offset":0.704,"color":"#EDBE2F"},{"offset":0.704,"color":"rgba(255,255,255,0)"},{"offset":0.725,"color":"rgba(255,255,255,0)"},
{"offset":0.725,"color":"#EDBE2F"},{"offset":0.729,"color":"#EDBE2F"},{"offset":0.729,"color":"rgba(255,255,255,0)"},{"offset":0.75,"color":"rgba(255,255,255,0)"},
{"offset":0.75,"color":"#EDBE2F"},{"offset":0.754,"color":"#EDBE2F"},{"offset":0.754,"color":"rgba(255,255,255,0)"},{"offset":0.775,"color":"rgba(255,255,255,0)"},
{"offset":0.775,"color":"#EDBE2F"},{"offset":0.779,"color":"#EDBE2F"},{"offset":0.779,"color":"rgba(255,255,255,0)"},{"offset":0.8,"color":"rgba(255,255,255,0)"},
{"offset":0.8,"color":"#EDBE2F"},{"offset":0.804,"color":"#EDBE2F"},{"offset":0.804,"color":"rgba(255,255,255,0)"},{"offset":0.825,"color":"rgba(255,255,255,0)"},
{"offset":0.825,"color":"#EDBE2F"},{"offset":0.829,"color":"#EDBE2F"},{"offset":0.829,"color":"rgba(255,255,255,0)"},{"offset":0.85,"color":"rgba(255,255,255,0)"},
{"offset":0.85,"color":"#EDBE2F"},{"offset":0.854,"color":"#EDBE2F"},{"offset":0.854,"color":"rgba(255,255,255,0)"},{"offset":0.875,"color":"rgba(255,255,255,0)"},
{"offset":0.875,"color":"#EDBE2F"},{"offset":0.879,"color":"#EDBE2F"},{"offset":0.879,"color":"rgba(255,255,255,0)"},{"offset":0.9,"color":"rgba(255,255,255,0)"},
{"offset":0.9,"color":"#EDBE2F"},{"offset":0.904,"color":"#EDBE2F"},{"offset":0.904,"color":"rgba(255,255,255,0)"},{"offset":0.925,"color":"rgba(255,255,255,0)"},
{"offset":0.925,"color":"#EDBE2F"},{"offset":0.929,"color":"#EDBE2F"},{"offset":0.929,"color":"rgba(255,255,255,0)"},{"offset":0.95,"color":"rgba(255,255,255,0)"},
{"offset":0.95,"color":"#EDBE2F"},{"offset":0.954,"color":"#EDBE2F"},{"offset":0.954,"color":"rgba(255,255,255,0)"},{"offset":0.975,"color":"rgba(255,255,255,0)"},
{"offset":0.975,"color":"#EDBE2F"},{"offset":0.979,"color":"#EDBE2F"},{"offset":0.979,"color":"rgba(255,255,255,0)"},{"offset":1,"color":"rgba(255,255,255,0)"}
]}}},
{"transform":[{"filter":"datum.cat === 'CGS100'"}],"mark":{"type":"bar","fill":{"gradient":"linear","x1":0,"y1":0,"x2":0,"y2":1,"stops":[
{"offset":0,"color":"#7030A0"},{"offset":0.0035,"color":"#7030A0"},{"offset":0.0035,"color":"#fff"},{"offset":0.029,"color":"#fff"},
{"offset":0.029,"color":"#7030A0"},{"offset":0.0325,"color":"#7030A0"},{"offset":0.0325,"color":"#fff"},{"offset":0.058,"color":"#fff"},
{"offset":0.058,"color":"#7030A0"},{"offset":0.0615,"color":"#7030A0"},{"offset":0.0615,"color":"#fff"},{"offset":0.087,"color":"#fff"},
{"offset":0.087,"color":"#7030A0"},{"offset":0.0905,"color":"#7030A0"},{"offset":0.0905,"color":"#fff"},{"offset":0.116,"color":"#fff"},
{"offset":0.116,"color":"#7030A0"},{"offset":0.1195,"color":"#7030A0"},{"offset":0.1195,"color":"#fff"},{"offset":0.145,"color":"#fff"},
{"offset":0.145,"color":"#7030A0"},{"offset":0.1485,"color":"#7030A0"},{"offset":0.1485,"color":"#fff"},{"offset":0.174,"color":"#fff"},
{"offset":0.174,"color":"#7030A0"},{"offset":0.1775,"color":"#7030A0"},{"offset":0.1775,"color":"#fff"},{"offset":0.203,"color":"#fff"},
{"offset":0.203,"color":"#7030A0"},{"offset":0.2065,"color":"#7030A0"},{"offset":0.2065,"color":"#fff"},{"offset":0.232,"color":"#fff"},
{"offset":0.232,"color":"#7030A0"},{"offset":0.2355,"color":"#7030A0"},{"offset":0.2355,"color":"#fff"},{"offset":0.261,"color":"#fff"},
{"offset":0.261,"color":"#7030A0"},{"offset":0.2645,"color":"#7030A0"},{"offset":0.2645,"color":"#fff"},{"offset":0.29,"color":"#fff"},
{"offset":0.29,"color":"#7030A0"},{"offset":0.2935,"color":"#7030A0"},{"offset":0.2935,"color":"#fff"},{"offset":0.319,"color":"#fff"},
{"offset":0.319,"color":"#7030A0"},{"offset":0.3225,"color":"#7030A0"},{"offset":0.3225,"color":"#fff"},{"offset":0.348,"color":"#fff"},
{"offset":0.348,"color":"#7030A0"},{"offset":0.3515,"color":"#7030A0"},{"offset":0.3515,"color":"#fff"},{"offset":0.377,"color":"#fff"},
{"offset":0.377,"color":"#7030A0"},{"offset":0.3805,"color":"#7030A0"},{"offset":0.3805,"color":"#fff"},{"offset":0.406,"color":"#fff"},
{"offset":0.406,"color":"#7030A0"},{"offset":0.4095,"color":"#7030A0"},{"offset":0.4095,"color":"#fff"},{"offset":0.435,"color":"#fff"},
{"offset":0.435,"color":"#7030A0"},{"offset":0.4385,"color":"#7030A0"},{"offset":0.4385,"color":"#fff"},{"offset":0.464,"color":"#fff"},
{"offset":0.464,"color":"#7030A0"},{"offset":0.4675,"color":"#7030A0"},{"offset":0.4675,"color":"#fff"},{"offset":0.493,"color":"#fff"},
{"offset":0.493,"color":"#7030A0"},{"offset":0.4965,"color":"#7030A0"},{"offset":0.4965,"color":"#fff"},{"offset":0.522,"color":"#fff"},
{"offset":0.522,"color":"#7030A0"},{"offset":0.5255,"color":"#7030A0"},{"offset":0.5255,"color":"#fff"},{"offset":0.551,"color":"#fff"},
{"offset":0.551,"color":"#7030A0"},{"offset":0.5545,"color":"#7030A0"},{"offset":0.5545,"color":"#fff"},{"offset":0.58,"color":"#fff"},
{"offset":0.58,"color":"#7030A0"},{"offset":0.5835,"color":"#7030A0"},{"offset":0.5835,"color":"#fff"},{"offset":0.609,"color":"#fff"},
{"offset":0.609,"color":"#7030A0"},{"offset":0.6125,"color":"#7030A0"},{"offset":0.6125,"color":"#fff"},{"offset":0.638,"color":"#fff"},
{"offset":0.638,"color":"#7030A0"},{"offset":0.6415,"color":"#7030A0"},{"offset":0.6415,"color":"#fff"},{"offset":0.667,"color":"#fff"},
{"offset":0.667,"color":"#7030A0"},{"offset":0.6705,"color":"#7030A0"},{"offset":0.6705,"color":"#fff"},{"offset":0.696,"color":"#fff"},
{"offset":0.696,"color":"#7030A0"},{"offset":0.6995,"color":"#7030A0"},{"offset":0.6995,"color":"#fff"},{"offset":0.725,"color":"#fff"},
{"offset":0.725,"color":"#7030A0"},{"offset":0.7285,"color":"#7030A0"},{"offset":0.7285,"color":"#fff"},{"offset":0.754,"color":"#fff"},
{"offset":0.754,"color":"#7030A0"},{"offset":0.7575,"color":"#7030A0"},{"offset":0.7575,"color":"#fff"},{"offset":0.783,"color":"#fff"},
{"offset":0.783,"color":"#7030A0"},{"offset":0.7865,"color":"#7030A0"},{"offset":0.7865,"color":"#fff"},{"offset":0.812,"color":"#fff"},
{"offset":0.812,"color":"#7030A0"},{"offset":0.8155,"color":"#7030A0"},{"offset":0.8155,"color":"#fff"},{"offset":0.841,"color":"#fff"},
{"offset":0.841,"color":"#7030A0"},{"offset":0.8445,"color":"#7030A0"},{"offset":0.8445,"color":"#fff"},{"offset":0.87,"color":"#fff"},
{"offset":0.87,"color":"#7030A0"},{"offset":0.8735,"color":"#7030A0"},{"offset":0.8735,"color":"#fff"},{"offset":0.899,"color":"#fff"},
{"offset":0.899,"color":"#7030A0"},{"offset":0.9025,"color":"#7030A0"},{"offset":0.9025,"color":"#fff"},{"offset":0.928,"color":"#fff"},
{"offset":0.928,"color":"#7030A0"},{"offset":0.9315,"color":"#7030A0"},{"offset":0.9315,"color":"#fff"},{"offset":0.957,"color":"#fff"},
{"offset":0.957,"color":"#7030A0"},{"offset":0.9605,"color":"#7030A0"},{"offset":0.9605,"color":"#fff"},{"offset":0.986,"color":"#fff"},
{"offset":0.986,"color":"#7030A0"},{"offset":0.9895,"color":"#7030A0"},{"offset":0.9895,"color":"#fff"},{"offset":1,"color":"#fff"}
]}}},
{"transform":[{"filter":"datum.cat === 'CGS100'"}],"mark":{"type":"bar","fill":{"gradient":"linear","x1":0,"y1":0,"x2":1,"y2":0,"stops":[
{"offset":0,"color":"rgba(255,255,255,0)"},{"offset":0.075,"color":"rgba(255,255,255,0)"},{"offset":0.075,"color":"#7030A0"},{"offset":0.125,"color":"#7030A0"},{"offset":0.125,"color":"rgba(255,255,255,0)"},
{"offset":0.505,"color":"rgba(255,255,255,0)"},{"offset":0.505,"color":"#7030A0"},{"offset":0.555,"color":"#7030A0"},{"offset":0.555,"color":"rgba(255,255,255,0)"},
{"offset":0.915,"color":"rgba(255,255,255,0)"},{"offset":0.915,"color":"#7030A0"},{"offset":0.965,"color":"#7030A0"},{"offset":0.965,"color":"rgba(255,255,255,0)"},{"offset":1,"color":"rgba(255,255,255,0)"}
]}}},
{"mark":{"type":"bar","fill":"transparent","stroke":"#000","strokeWidth":2.5}},
{"mark":{"type":"text","baseline":"alphabetic","dy":-19,"fontSize":31,"color":"#000"},"encoding":{"text":{"field":"mpa","type":"quantitative","format":".2f"}}},
{"mark":{"type":"rule","color":"#f00","strokeWidth":3},"encoding":{"y":{"field":"lo","type":"quantitative"},"y2":{"field":"hi"}}},
{"mark":{"type":"tick","color":"#f00","thickness":3,"size":12,"orient":"horizontal"},"encoding":{"y":{"field":"lo","type":"quantitative"}}},
{"mark":{"type":"tick","color":"#f00","thickness":3,"size":12,"orient":"horizontal"},"encoding":{"y":{"field":"hi","type":"quantitative"}}}
]},
{"encoding":{"y":{"field":"ratio","type":"quantitative","scale":{"domain":[0.1,0.2],"nice":false},"axis":{"orient":"right","values":[0.1,0.11,0.12,0.13,0.14,0.15,0.16,0.17,0.18,0.19,0.2],"format":".0%","grid":false,"domainColor":"#999","domainWidth":2,"tickColor":"#999","tickWidth":2,"tickSize":10,"labelFontSize":31,"labelPadding":16,"title":["Ratio splitting tensile strength /","Compressive strength"],"titleFontSize":27,"titleAngle":270,"titleX":124,"titleY":307,"titleAlign":"center","titleBaseline":"middle","titleLineHeight":33}}},
"layer":[
{"mark":{"type":"line","color":"#000","strokeWidth":5}},
{"mark":{"type":"point","filled":false,"size":6400,"strokeWidth":2,"color":"#000","opacity":1},"encoding":{"shape":{"field":"cat","type":"nominal","scale":{"domain":["CGS0","CGS25","CGS50","CGS75","CGS100"],"range":["M 0.55 0.375 L 0.675 0.6","M 0.025 -0.075 L 0.55 -0.75 L 1 -0.75","M 0.05 -0.075 L 0.625 -0.7 L 1 -0.7","M 0.05 -0.0875 L 0.525 -0.5625 L 0.725 -0.5625","M -0.045 0 L 0.03 -0.45 L 0.325 -0.45"]},"legend":null}}},
{"transform":[{"filter":"datum.cat === 'CGS0'"}],"mark":{"type":"text","align":"left","baseline":"middle","dx":43,"dy":24,"fontSize":31,"color":"#000"},"encoding":{"text":{"field":"ratio","type":"quantitative","format":".0%"}}},
{"transform":[{"filter":"datum.cat === 'CGS25'"}],"mark":{"type":"text","align":"left","baseline":"middle","dx":42,"dy":-25,"fontSize":31,"color":"#000"},"encoding":{"text":{"field":"ratio","type":"quantitative","format":".0%"}}},
{"transform":[{"filter":"datum.cat === 'CGS50'"}],"mark":{"type":"text","align":"left","baseline":"middle","dx":48,"dy":-26,"fontSize":31,"color":"#000"},"encoding":{"text":{"field":"ratio","type":"quantitative","format":".0%"}}},
{"transform":[{"filter":"datum.cat === 'CGS75'"}],"mark":{"type":"text","align":"left","baseline":"middle","dx":35,"dy":-20,"fontSize":31,"color":"#000"},"encoding":{"text":{"field":"ratio","type":"quantitative","format":".0%"}}},
{"transform":[{"filter":"datum.cat === 'CGS100'"}],"mark":{"type":"text","align":"left","baseline":"middle","dx":21,"dy":-16,"fontSize":31,"color":"#000"},"encoding":{"text":{"field":"ratio","type":"quantitative","format":".0%"}}}
]}
],
"resolve":{"scale":{"y":"independent"}}
}
